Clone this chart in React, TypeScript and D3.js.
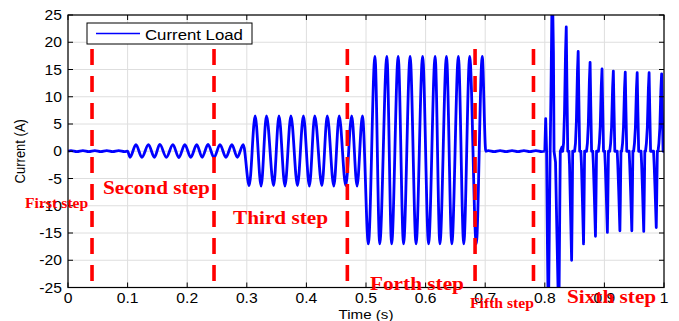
import React from 'react';
import * as d3 from 'd3';

// ---------- data ----------
const xTicks = [0, 0.1, 0.2, 0.3, 0.4, 0.5, 0.6, 0.7, 0.8, 0.9, 1];
const xTickLabels = ['0', '0.1', '0.2', '0.3', '0.4', '0.5', '0.6', '0.7', '0.8', '0.9', '1'];
const yTicks = [-25, -20, -15, -10, -5, 0, 5, 10, 15, 20, 25];
const yTickLabels = ['-25', '-20', '-15', '-10', '-5', '0', '5', '10', '15', '20', '25'];

const seriesName = 'Current Load';

// step boundaries (s)
const stepTimes = [0.0403, 0.245, 0.4687, 0.683, 0.781];
const stepLabels = ['First step', 'Second step', 'Third step', 'Forth step', 'Fifth step', 'Sixth step'];
// label anchors in data coordinates [time, current]
const stepLabelAt: [number, number][] = [
  [-0.0721, -10.5], [0.0587, -7.85], [0.2768, -13.36], [0.5067, -25.4], [0.6745, -28.7], [0.8372, -27.9],
];
const stepLabelBig = [false, true, true, true, false, true];

// no-load ripple 0 - 0.1 s
const segA: [number, number][] = [
  [0, 0], [0.005, 0.1], [0.015, -0.08], [0.025, 0.1], [0.035, -0.08], [0.045, 0.1], [0.055, -0.08],
  [0.065, 0.1], [0.075, -0.08], [0.085, 0.1], [0.095, -0.08], [0.1, 0],
];
// small load 0.1 - 0.3 s
const segB: [number, number][] = [
  [0.104, -1.1], [0.114, 1.2], [0.124, -1.1], [0.135, 1.2], [0.145, -1.1], [0.154, 1.25], [0.165, -1.1],
  [0.176, 1.2], [0.186, -1.15], [0.196, 1.2], [0.206, -1.1], [0.216, 1.2], [0.225, -1.1], [0.235, 1.25],
  [0.245, -1.15], [0.255, 1.2], [0.265, -1.1], [0.275, 1.2], [0.284, -1.1], [0.294, 1.2],
];
// 0.3 - 0.5 s
const segC: [number, number][] = [
  [0.304, -6.3], [0.314, 6.5], [0.324, -6.4], [0.333, 6.5], [0.345, -6.3], [0.354, 6.5], [0.364, -6.4],
  [0.374, 6.5], [0.385, -6.3], [0.395, 6.5], [0.405, -6.4], [0.414, 6.5], [0.426, -6.3], [0.435, 6.5],
  [0.446, -6.4], [0.455, 6.5], [0.466, -6.3], [0.476, 6.5], [0.485, -6.4], [0.494, 6.5],
];
// 0.5 - 0.7 s
const segD: [number, number][] = [
  [0.504, -17], [0.515, 17.4], [0.523, -17], [0.535, 17.4], [0.543, -17], [0.554, 17.4], [0.563, -17],
  [0.574, 17.4], [0.584, -17], [0.595, 17.4], [0.605, -17], [0.616, 17.4], [0.624, -17], [0.635, 17.4],
  [0.644, -17], [0.655, 17.4], [0.664, -17], [0.674, 17.4], [0.685, -17], [0.695, 17.4], [0.701, 0],
];
// no-load ripple 0.7 - 0.8 s
const segF: [number, number][] = [
  [0.705, 0.1], [0.715, -0.08], [0.725, 0.1], [0.735, -0.08], [0.745, 0.1], [0.755, -0.08], [0.765, 0.1],
  [0.775, -0.08], [0.785, 0.1], [0.795, -0.08], [0.8, 0],
];
// start transient 0.8 - 0.83 s
const segE0: [number, number][] = [
  [0.8005, 2], [0.8015, 6], [0.803, 0], [0.8045, -18], [0.806, -32], [0.808, -10], [0.809, 0],
  [0.8105, 12], [0.8125, 32], [0.8145, 18], [0.8155, 0], [0.818, -2], [0.8205, -16], [0.8235, -32],
  [0.825, -12], [0.826, 0], [0.829, 0.8],
];
// pulse peaks 0.83 - 1 s
const eTimes = [0.836, 0.845, 0.856, 0.865, 0.876, 0.885, 0.896, 0.905, 0.915, 0.926, 0.935, 0.946, 0.955, 0.966, 0.975, 0.987, 0.996];
const eValues = [22.8, -20, 18.3, -17, 16.3, -15.6, 15.1, -14.9, 14.7, -14.6, 14.5, -14.6, 14.4, -14.7, 14.4, -14, 14.2];

// ---------- layout ----------
const W = 679;
const H = 321;
const L = 68, R = 664, T = 15, B = 287.5;
const SX = 1.12; // horizontal text stretch
const SANS = '"Liberation Sans", Arial, sans-serif';
const SERIF = '"Liberation Serif", "Times New Roman", serif';

function pulses(): [number, number][] {
  const out: [number, number][] = [];
  eTimes.forEach((t, i) => {
    const v = eValues[i];
    if (v > 0) {
      out.push([t - 0.006, 0], [t - 0.0045, 1.5], [t - 0.003, 0.3 * v], [t - 0.0012, 0.8 * v], [t, v],
        [t + 0.0012, 0.5 * v], [t + 0.0025, 0]);
    } else {
      out.push([t - 0.0045, 0], [t - 0.0035, -2.5], [t - 0.002, 0.5 * v], [t, v], [t + 0.0008, 0.6 * v], [t + 0.0018, 0]);
    }
  });
  out.push([1, 0]);
  return out;
}

export default function App() {
  const x = d3.scaleLinear().domain([0, 1]).range([L, R]);
  const y = d3.scaleLinear().domain([-25, 25]).range([B, T]);

  const smooth = d3.line<[number, number]>().x(d => x(d[0])).y(d => y(d[1])).curve(d3.curveMonotoneX);
  const lin = d3.line<[number, number]>().x(d => x(d[0])).y(d => y(d[1]));

  const smoothPts: [number, number][] = [...segA, ...segB, ...segC, ...segD, ...segF];
  const pulsePts: [number, number][] = [[0.8, 0], ...segE0, ...pulses()];

  const blue = '#0000ff';
  const red = '#ff0000';

  return (
    <svg width={W} height={H} style={{ position: 'absolute', left: 0, top: 0, background: '#fff' }}>
      <defs>
        <clipPath id="plotclip">
          <rect x={L} y={T} width={R - L} height={B - T} />
        </clipPath>
      </defs>
      <rect x={0} y={0} width={W} height={H} fill="#fff" />
      {/* grid */}
      {xTicks.map((t, i) => (
        <line key={'gx' + i} x1={x(t)} x2={x(t)} y1={T} y2={B} stroke="#dedede" strokeWidth={1} />
      ))}
      {yTicks.map((t, i) => (
        <line key={'gy' + i} x1={L} x2={R} y1={y(t)} y2={y(t)} stroke="#dedede" strokeWidth={1} />
      ))}
      {/* waveform */}
      <g clipPath="url(#plotclip)">
        <path d={smooth(smoothPts) || ''} fill="none" stroke={blue} strokeWidth={2.8} strokeLinejoin="round" />
        <path d={lin(pulsePts) || ''} fill="none" stroke={blue} strokeWidth={2.8} strokeLinejoin="round" />
      </g>
      {/* axes box + ticks */}
      <rect x={L} y={T} width={R - L} height={B - T} fill="none" stroke="#000" strokeWidth={1.2} />
      {xTicks.map((t, i) => (
        <g key={'tx' + i}>
          <line x1={x(t)} x2={x(t)} y1={B} y2={B - 5} stroke="#000" />
          <line x1={x(t)} x2={x(t)} y1={T} y2={T + 5} stroke="#000" />
          <text transform={`translate(${x(t)},${B + 15}) scale(${SX},1)`} textAnchor="middle" fontFamily={SANS} fontSize={14} fill="#000">
            {xTickLabels[i]}
          </text>
        </g>
      ))}
      {yTicks.map((t, i) => (
        <g key={'ty' + i}>
          <line x1={L} x2={L + 5} y1={y(t)} y2={y(t)} stroke="#000" />
          <line x1={R} x2={R - 5} y1={y(t)} y2={y(t)} stroke="#000" />
          <text transform={`translate(${L - 6},${y(t) + 5}) scale(${SX},1)`} textAnchor="end" fontFamily={SANS} fontSize={14} fill="#000">
            {yTickLabels[i]}
          </text>
        </g>
      ))}
      {/* axis titles */}
      <text transform={`translate(${(L + R) / 2},${H - 2}) scale(${SX},1)`} textAnchor="middle" fontFamily={SANS} fontSize={13.5} fill="#000">
        Time (s)
      </text>
      <text transform={`translate(25,${y(0)}) rotate(-90) scale(1,${SX})`} textAnchor="middle" fontFamily={SANS} fontSize={13} fill="#000">
        Current (A)
      </text>
      {/* legend */}
      <rect x={87} y={23} width={165} height={21} fill="#fff" stroke="#000" strokeWidth={1} />
      <line x1={96} x2={140} y1={33.5} y2={33.5} stroke={blue} strokeWidth={1.6} />
      <text transform={`translate(145,40) scale(${SX},1)`} fontFamily={SANS} fontSize={15} fill="#000">
        {seriesName}
      </text>
      {/* step boundaries */}
      {stepTimes.map((t, i) => (
        <line key={'st' + i} x1={x(t)} x2={x(t)} y1={49} y2={B} stroke={red} strokeWidth={3.6} strokeDasharray="16 11" />
      ))}
      {/* step labels */}
      {stepLabels.map((s, i) => (
        <text
          key={'sl' + i}
          transform={`translate(${x(stepLabelAt[i][0])},${y(stepLabelAt[i][1])}) scale(${SX},1)`}
          fontFamily={SERIF}
          fontWeight="bold"
          fontSize={stepLabelBig[i] ? 19 : 14}
          fill={red}
        >
          {s}
        </text>
      ))}
    </svg>
  );
}
